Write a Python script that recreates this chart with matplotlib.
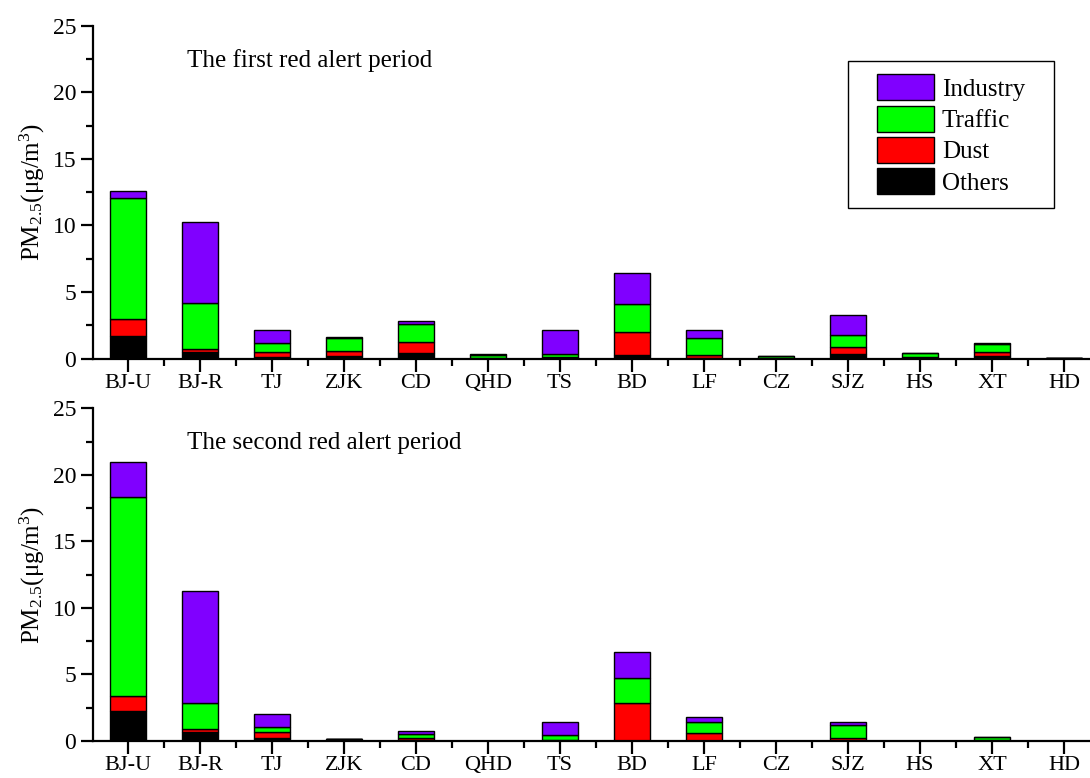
import matplotlib
matplotlib.use("Agg")
import matplotlib.pyplot as plt
import numpy as np
from matplotlib.patches import Patch, Rectangle
from matplotlib.ticker import MultipleLocator, FixedLocator

plt.rcParams['font.family'] = ['Liberation Serif', 'DejaVu Serif']
plt.rcParams['mathtext.fontset'] = 'custom'
plt.rcParams['mathtext.rm'] = 'Liberation Serif'
plt.rcParams['mathtext.it'] = 'Liberation Serif:italic'

sites = ["BJ-U", "BJ-R", "TJ", "ZJK", "CD", "QHD", "TS", "BD", "LF", "CZ", "SJZ", "HS", "XT", "HD"]
sources = ["Others", "Dust", "Traffic", "Industry"]
colors = {"Others": "#000000", "Dust": "#FF0000", "Traffic": "#00FF00", "Industry": "#8000FF"}

# first red alert period
p1_others   = [1.70, 0.50, 0.15, 0.20, 0.40, 0.05, 0.05, 0.30, 0.05, 0.03, 0.35, 0.05, 0.20, 0.02]
p1_dust     = [1.30, 0.20, 0.37, 0.40, 0.85, 0.02, 0.05, 1.70, 0.20, 0.02, 0.50, 0.05, 0.30, 0.01]
p1_traffic  = [9.10, 3.50, 0.68, 0.95, 1.35, 0.23, 0.25, 2.10, 1.30, 0.12, 0.90, 0.30, 0.62, 0.02]
p1_industry = [0.50, 6.05, 0.93, 0.10, 0.20, 0.05, 1.77, 2.30, 0.60, 0.04, 1.55, 0.04, 0.07, 0.01]

# second red alert period
p2_others   = [2.25, 0.68, 0.20, 0.12, 0.05, 0.0, 0.05, 0.02, 0.02, 0.0, 0.02, 0.0, 0.02, 0.0]
p2_dust     = [1.10, 0.22, 0.45, 0.01, 0.17, 0.0, 0.03, 2.80, 0.60, 0.0, 0.18, 0.0, 0.02, 0.0]
p2_traffic  = [15.00, 1.98, 0.38, 0.01, 0.33, 0.0, 0.37, 1.93, 0.77, 0.0, 1.00, 0.0, 0.26, 0.0]
p2_industry = [2.65, 8.37, 1.02, 0.01, 0.18, 0.0, 0.98, 1.95, 0.40, 0.0, 0.25, 0.0, 0.02, 0.0]

periods = [
    ("The first red alert period", [p1_others, p1_dust, p1_traffic, p1_industry]),
    ("The second red alert period", [p2_others, p2_dust, p2_traffic, p2_industry]),
]

fig = plt.figure(figsize=(10.9, 7.78), dpi=100)
axes_pos = [[0.0853, 0.5392, 0.9147, 0.4274], [0.0853, 0.0476, 0.9147, 0.4276]]
x = np.arange(len(sites))

leg = None
for i, (title, series) in enumerate(periods):
    ax = fig.add_axes(axes_pos[i])
    bottom = np.zeros(len(sites))
    for name, vals in zip(sources, series):
        vals = np.array(vals)
        ax.bar(x, vals, width=0.5, bottom=bottom, color=colors[name],
               edgecolor='black', linewidth=1.0)
        bottom += vals
    ax.set_xlim(-0.486, 13.36)
    ax.set_ylim(0, 25)
    ax.set_xticks(x)
    ax.set_xticklabels(sites)
    ax.xaxis.set_minor_locator(FixedLocator(np.arange(-0.5, 13.6, 1.0)))
    ax.yaxis.set_major_locator(MultipleLocator(5))
    ax.yaxis.set_minor_locator(MultipleLocator(2.5))
    ax.tick_params(axis='both', which='major', direction='out', length=9, width=1.6)
    ax.tick_params(axis='both', which='minor', direction='out', length=5, width=1.6)
    ax.tick_params(axis='x', labelsize=16, pad=2)
    ax.tick_params(axis='y', labelsize=17, pad=3)
    for s in ['top', 'right']:
        ax.spines[s].set_visible(False)
    for s in ['left', 'bottom']:
        ax.spines[s].set_linewidth(1.6)
    ax.set_ylabel("PM$_{2.5}$(μg/m$^3$)", fontsize=18, labelpad=4)
    ax.text(0.82, 22.4, title, fontsize=18, ha='left', va='center')
    if i == 0:
        handles = [Patch(facecolor=colors[n], edgecolor='black', linewidth=1.0, label=n)
                   for n in ["Industry", "Traffic", "Dust", "Others"]]
        leg = ax.legend(handles=handles, loc='upper right', bbox_to_anchor=(0.935, 0.855),
                        fontsize=18, frameon=False,
                        handlelength=2.3, handleheight=1.22, labelspacing=0.2,
                        handletextpad=0.3, borderpad=0.0, borderaxespad=0)

# draw a legend frame with wider horizontal padding than vertical
fig.canvas.draw()
bb = leg.get_window_extent()
padx, pady = 29, 13
frame = Rectangle((bb.x0 - padx, bb.y0 - pady), bb.width + 2 * padx, bb.height + 2 * pady,
                  transform=None, fill=False, edgecolor='black', linewidth=1.0, zorder=10)
fig.add_artist(frame)

fig.savefig("out.png", dpi=100)
